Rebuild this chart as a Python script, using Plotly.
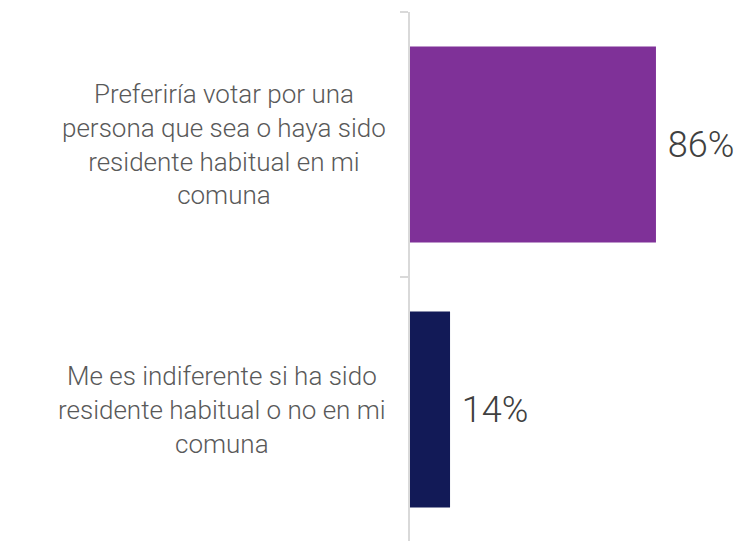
import plotly.graph_objects as go

categories = [
    "Preferiría votar por una<br>persona que sea o haya sido<br>residente habitual en mi<br>comuna",
    "Me es indiferente si ha sido<br>residente habitual o no en mi<br>comuna",
]
values = [86, 14]
colors = ["#7F3198", "#121A57"]

fig = go.Figure()
fig.add_trace(go.Bar(
    x=values,
    y=categories,
    orientation="h",
    marker=dict(color=colors, line=dict(width=0)),
    width=0.74,
    text=[f" {v}%" for v in values],
    textposition="outside",
    cliponaxis=False,
    textfont=dict(family="Roboto", size=36, color="#404040", weight=300),
    hoverinfo="skip",
))

for c in categories:
    fig.add_annotation(
        xref="paper", x=0, yref="y", y=c,
        xanchor="right", yanchor="middle", xshift=-22,
        text=c, showarrow=False, align="center",
        font=dict(family="Roboto", size=26, color="#595959", weight=300),
    )

fig.update_layout(
    width=743, height=541,
    margin=dict(l=402, r=55, t=4, b=7),
    plot_bgcolor="white", paper_bgcolor="white",
    showlegend=False,
    bargap=0.26,
)
fig.update_xaxes(range=[0, 100], visible=False, showgrid=False, zeroline=False)
fig.update_yaxes(
    categoryorder="array", categoryarray=categories, autorange="reversed",
    showticklabels=False, showgrid=False, zeroline=False,
    showline=True, linecolor="#D9D9D9", linewidth=2,
    ticks="outside", tickson="boundaries", ticklen=8, tickcolor="#D9D9D9", tickwidth=2,
)

fig.write_html("out.html")
